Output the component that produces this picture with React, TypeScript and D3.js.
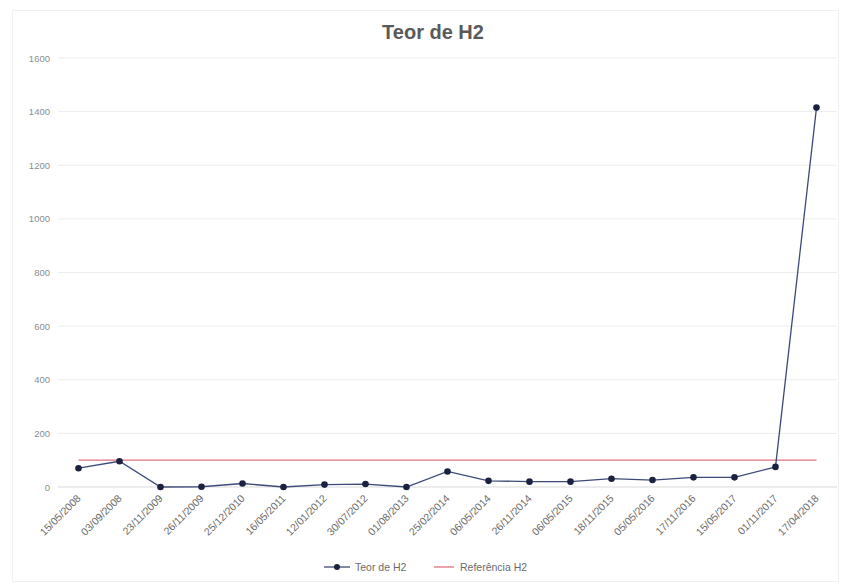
import React from "react";
import * as d3 from "d3";

const dates = [
  "15/05/2008", "03/09/2008", "23/11/2009", "26/11/2009", "25/12/2010",
  "16/05/2011", "12/01/2012", "30/07/2012", "01/08/2013", "25/02/2014",
  "06/05/2014", "26/11/2014", "06/05/2015", "18/11/2015", "05/05/2016",
  "17/11/2016", "15/05/2017", "01/11/2017", "17/04/2018",
];
const teorH2 = [70, 96, 0, 1, 13, 0, 9, 11, 0, 58, 23, 20, 20, 31, 26, 36, 36, 75, 1415];
const referenciaH2 = dates.map(() => 100);
const yTicks = [0, 200, 400, 600, 800, 1000, 1200, 1400, 1600];

const W = 841;
const H = 586;
const M = { left: 58, right: 4, top: 58, bottom: 99 };
const FONT = "'Liberation Sans', Arial, sans-serif";

export default function App() {
  const x = d3.scaleBand<string>().domain(dates).range([M.left, W - M.right]).padding(0);
  const y = d3.scaleLinear().domain([0, 1600]).range([H - M.bottom, M.top]);
  const cx = (d: string) => (x(d) as number) + x.bandwidth() / 2;

  const line = d3.line<number>().x((_, i) => cx(dates[i])).y((v) => y(v));
  const refLine = d3.line<number>().x((_, i) => cx(dates[i])).y((v) => y(v));

  return (
    <div style={{ position: "absolute", left: 0, top: 0 }}>
      <svg width={W} height={H} style={{ display: "block", fontFamily: FONT }}>
        <rect x={0} y={0} width={W} height={H} fill="#ffffff" />
        <rect x={12.5} y={10.5} width={826} height={571} fill="none" stroke="#f0f0f0" strokeWidth={1} />
        <text x={433} y={39} textAnchor="middle" fontSize={20} fontWeight="bold" fill="#5a5a5a">
          Teor de H2
        </text>
        {yTicks.map((t) => (
          <g key={t}>
            <line x1={M.left} x2={W - M.right} y1={y(t)} y2={y(t)} stroke={t === 0 ? "#d9d9d9" : "#ececec"} strokeWidth={1} />
            <text x={50} y={y(t) + 3.5} textAnchor="end" fontSize={9.5} fill="#8c8c8c">
              {t}
            </text>
          </g>
        ))}
        {dates.map((d) => (
          <text
            key={d}
            transform={`translate(${cx(d) + 3},${y(0) + 12}) rotate(-45)`}
            textAnchor="end"
            fontSize={10.5}
            fill="#6b6b6b"
          >
            {d}
          </text>
        ))}
        <path d={refLine(referenciaH2) || ""} fill="none" stroke="#e0707f" strokeWidth={1.3} />
        <path d={line(teorH2) || ""} fill="none" stroke="#3d4a78" strokeWidth={1.3} />
        {teorH2.map((v, i) => (
          <circle key={i} cx={cx(dates[i])} cy={y(v)} r={3.3} fill="#1a2240" />
        ))}
        <g transform="translate(0,567)" fontSize={10.5} fill="#6b6b6b">
          <line x1={324} x2={350} y1={0} y2={0} stroke="#3d4a78" strokeWidth={1.3} />
          <circle cx={337} cy={0} r={3} fill="#1a2240" />
          <text x={355} y={3.5}>Teor de H2</text>
          <line x1={434} x2={454} y1={0} y2={0} stroke="#e0707f" strokeWidth={1.3} />
          <text x={460} y={3.5}>Referência H2</text>
        </g>
      </svg>
    </div>
  );
}
